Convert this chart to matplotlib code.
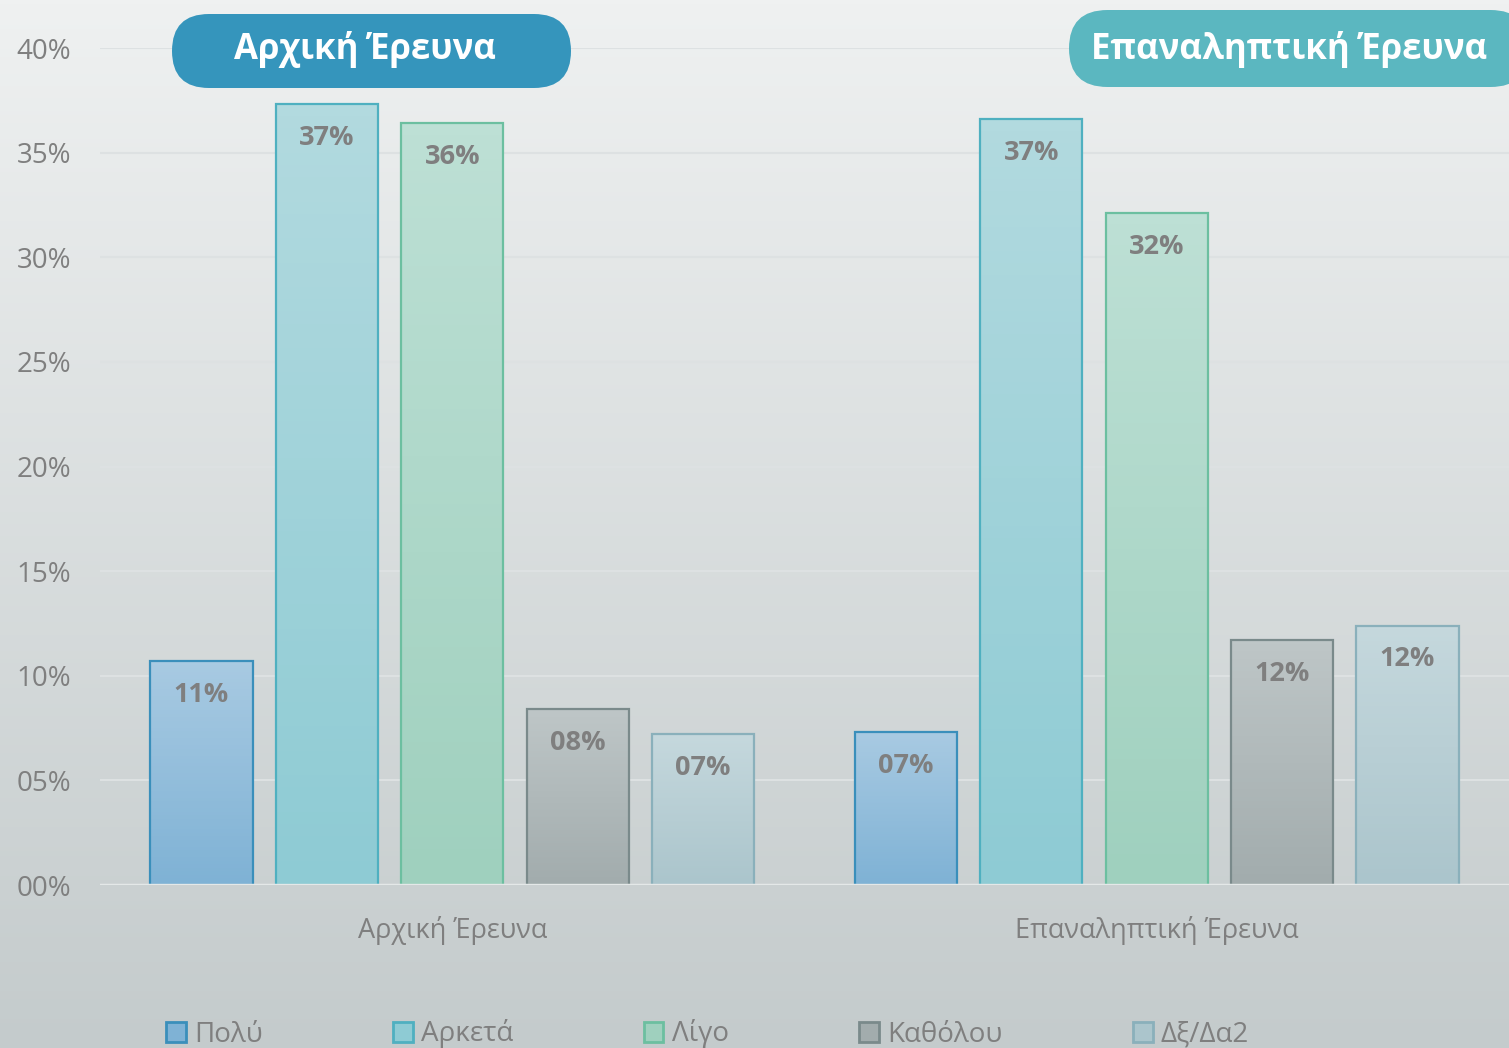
import numpy as np
import matplotlib
matplotlib.use('Agg')
import matplotlib.pyplot as plt
from matplotlib.colors import LinearSegmentedColormap
from matplotlib.patches import FancyBboxPatch

# * Data
groups = ['Αρχική Έρευνα', 'Επαναληπτική Έρευνα']
answers = ['Πολύ', 'Αρκετά', 'Λίγο', 'Καθόλου', 'Δξ/Δα2']
values_initial = [10.7, 37.3, 36.4, 8.4, 7.2]
values_repeat = [7.3, 36.6, 32.1, 11.7, 12.4]
yticks = [0, 5, 10, 15, 20, 25, 30, 35, 40]

# * Styles (top colour, bottom colour, edge colour)
tops = ['#a8cae2', '#b2dadf', '#bde0d5', '#bec6c7', '#c5d8dd']
bottoms = ['#7fb2d5', '#8ecbd4', '#9fd0be', '#a2acad', '#abc5cc']
edges = ['#3a8fbb', '#4fb0c0', '#6cbfa0', '#7a8a8b', '#8ab0bb']
grey = '#7f7f7f'

plt.rcParams['font.family'] = ['Open Sans', 'DejaVu Sans']

fig = plt.figure(figsize=(15.09, 10.48), dpi=100)

# * Background gradient over the whole figure
bg = fig.add_axes([0, 0, 1, 1], zorder=-10)
bg.imshow(np.linspace(0, 1, 256).reshape(-1, 1), aspect='auto',
          cmap=LinearSegmentedColormap.from_list('bg', ['#eff1f1', '#c4cbcc']),
          extent=[0, 1, 0, 1], origin='upper')
bg.axis('off')

ax = fig.add_axes([100 / 1509, 163 / 1048, 1409 / 1509, 837 / 1048])
ax.patch.set_alpha(0)

x = np.arange(len(groups))
width = 0.145
step = 0.178
all_values = np.array([values_initial, values_repeat])
for k, name in enumerate(answers):
    pos = x + (k - 2) * step
    bars = ax.bar(pos, all_values[:, k], width=width, facecolor='none',
                  edgecolor=edges[k], linewidth=1.6, label=name, zorder=3)
    cmap = LinearSegmentedColormap.from_list('c%d' % k, [bottoms[k], tops[k]])
    for b, v in zip(bars, all_values[:, k]):
        bx, bw, bh = b.get_x(), b.get_width(), b.get_height()
        ax.imshow(np.linspace(0, 1, 64).reshape(-1, 1), cmap=cmap, aspect='auto',
                  origin='lower', extent=[bx, bx + bw, 0, bh], zorder=2)
        ax.text(bx + bw / 2, bh - 1.6, '%02d%%' % int(v + 0.5), ha='center', va='center',
                fontsize=19.5, fontweight='bold', color=grey, zorder=4)

ax.set_xlim(-0.5, 1.5)
ax.set_ylim(0, 40)
ax.set_yticks(yticks)
ax.set_yticklabels(['%02d%%' % t for t in yticks])
ax.set_xticks(x)
ax.set_xticklabels(groups)
ax.tick_params(axis='y', length=0, pad=21, labelsize=20, labelcolor=grey)
ax.tick_params(axis='x', length=0, pad=22, labelsize=19.5, labelcolor=grey)
for s in ax.spines.values():
    s.set_visible(False)
ax.grid(axis='y', color='#dde1e2', linewidth=1.5, zorder=0)
ax.set_axisbelow(True)
ax.axhline(0, color='#e4e8e8', linewidth=2.5, zorder=5)

# * Title boxes (inches from bottom-left)
boxes = [(1.72, 9.60, 3.99, 0.74, '#3595bc', 3.65), (10.69, 9.61, 4.60, 0.77, '#5bb7c0', 12.89)]
for (bx, by, bw, bh, col, tx), title in zip(boxes, groups):
    fig.patches.append(FancyBboxPatch((bx, by), bw, bh,
                                      boxstyle='round,pad=0,rounding_size=%.3f' % (bh / 2),
                                      transform=fig.dpi_scale_trans, fc=col, ec='none', zorder=5))
    fig.text(tx, 10.48 - 0.50, title, ha='center', va='center', transform=fig.dpi_scale_trans,
             fontsize=25, fontweight='bold', color='white', zorder=6)

# * Legend
handles, labels = ax.get_legend_handles_labels()
leg = fig.legend(handles, labels, loc='center', bbox_to_anchor=(0.469, 1 - 1034 / 1048),
                 ncol=5, frameon=False, fontsize=20, labelcolor=grey,
                 handlelength=0.7, handleheight=0.7, handletextpad=0.3, columnspacing=4.7)
for h, c1, c2 in zip(leg.legend_handles, tops, bottoms):
    h.set_facecolor(c2)
    h.set_linewidth(2)

fig.savefig('out.png', dpi=100)
